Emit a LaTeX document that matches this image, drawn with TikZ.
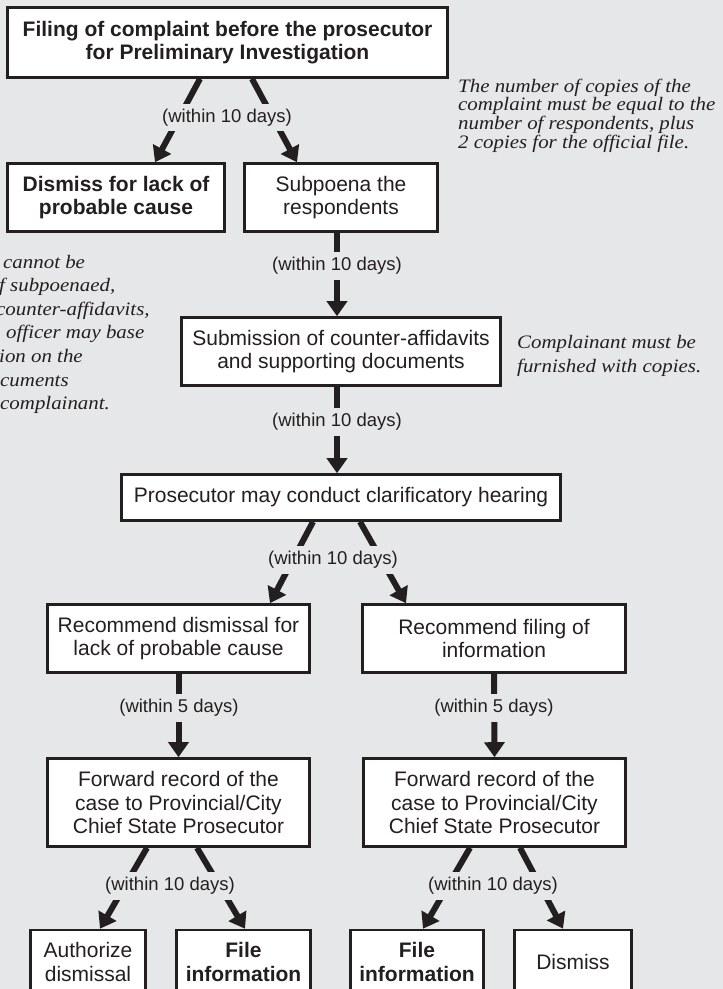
\documentclass[tikz,border=0pt]{standalone}
\usepackage{fontspec}
\setmainfont{Liberation Serif}
\setsansfont{Liberation Sans}
\newfontfamily\notefont[FakeStretch=1.1]{Liberation Serif}
\usetikzlibrary{arrows.meta}
\definecolor{paper}{RGB}{230,231,232}
\definecolor{ink}{RGB}{35,31,32}

\begin{document}
\begin{tikzpicture}[x=1pt, y=-1pt,
    stepbox/.style={draw=ink, line width=2.6pt, fill=white, text=ink,
                    align=center, inner sep=0pt,
                    font=\sffamily\fontsize{21}{23.5}\selectfont},
    days/.style={fill=paper, text=ink, inner xsep=0pt, inner ysep=5pt,
                 font=\sffamily\fontsize{18.5}{20}\selectfont},
    note/.style={anchor=base west, inner sep=0pt, text=ink,
                 font=\notefont\itshape\fontsize{19}{23.6}\selectfont},
    flow/.style={draw=ink, line width=6pt,
                 -{Triangle[length=15pt,width=20pt]}}]

  \useasboundingbox (0,0) rectangle (723,989);
  \clip (0,0) rectangle (723,989);
  \fill[paper] (0,0) rectangle (723,989);

  % boxes
  \node[stepbox, minimum width=440pt, minimum height=70pt] (filing) at (227.5,42.5)
    {\bfseries Filing of complaint before the prosecutor\\ \bfseries for Preliminary Investigation};
  \node[stepbox, minimum width=217pt, minimum height=68pt] (nocause) at (116,197.5)
    {\bfseries Dismiss for lack of\\ \bfseries probable cause};
  \node[stepbox, minimum width=193pt, minimum height=68pt] (subpoena) at (341,197.5)
    {Subpoena the\\ respondents};
  \node[stepbox, minimum width=319pt, minimum height=68pt] (counter) at (341,351.5)
    {Submission of counter-affidavits\\ and supporting documents};
  \node[stepbox, minimum width=439pt, minimum height=46pt] (hearing) at (341,497.5)
    {Prosecutor may conduct clarificatory hearing};
  \node[stepbox, minimum width=262pt, minimum height=68pt] (recdismiss) at (178.5,638.5)
    {Recommend dismissal for\\ lack of probable cause};
  \node[stepbox, minimum width=263pt, minimum height=68pt] (recfile) at (494,638.5)
    {Recommend filing of\\ information};
  \node[stepbox, minimum width=262pt, minimum height=88pt] (fwdA) at (178.5,802.5)
    {Forward record of the\\ case to Provincial/City\\ Chief State Prosecutor};
  \node[stepbox, minimum width=262pt, minimum height=88pt] (fwdB) at (494.5,802.5)
    {Forward record of the\\ case to Provincial/City\\ Chief State Prosecutor};
  \node[stepbox, minimum width=115pt, minimum height=64pt] (authorize) at (88,962)
    {Authorize\\ dismissal};
  \node[stepbox, minimum width=134pt, minimum height=64pt] (fileA) at (243.5,962)
    {\bfseries File\\ \bfseries information};
  \node[stepbox, minimum width=133pt, minimum height=64pt] (fileB) at (417,962)
    {\bfseries File\\ \bfseries information};
  \node[stepbox, minimum width=117pt, minimum height=64pt] (dismiss) at (573,962)
    {Dismiss};

  % arrows
  \foreach \a/\sa/\b/\sb in {filing/-27.5/nocause/39, filing/24.5/subpoena/-44,
      subpoena/-4/counter/-4, counter/-4/hearing/-4,
      hearing/-28/recdismiss/91.5, hearing/19/recfile/-88,
      recdismiss/0/fwdA/0, recfile/0/fwdB/0,
      fwdA/-31.5/authorize/12, fwdA/18.5/fileA/1.5,
      fwdB/-24.5/fileB/6, fwdB/25.5/dismiss/-10} {
    \draw[flow] ([xshift=\sa pt]\a.south) -- ([xshift=\sb pt]\b.north);
  }

  % time limits
  \foreach \n/\x/\y/\dd in {lblA/227/117.5/10, lblB/337/266/10, lblC/337/422/10,
      lblD/333/560/10, lblE/179/708/5, lblF/494/708/5,
      lblG/170/886/10, lblH/493/886/10} {
    \node[days] (\n) at (\x,\y) {(within \dd\ days)};
  }

  % side notes
  \foreach \t [count=\i] in {The number of copies of the,
      complaint must be equal to the, {number of respondents, plus},
      2 copies for the official file.} {
    \node[note] (copies\i) at (458,{73.3+18.7*\i}) {\t};
  }
  \foreach \x/\t [count=\i] in {3/cannot be, {-1/f subpoenaed,},
      {-4/counter-affidavits,}, 6/officer may base, -1/ion on the,
      0/cuments, 0/complainant.} {
    \node[note] (nofile\i) at (\x,{244.4+23.6*\i}) {\t};
  }
  \node[note] (furnish1) at (517,348) {Complainant must be};
  \node[note] (furnish2) at (517,372) {furnished with copies.};
\end{tikzpicture}
\end{document}
